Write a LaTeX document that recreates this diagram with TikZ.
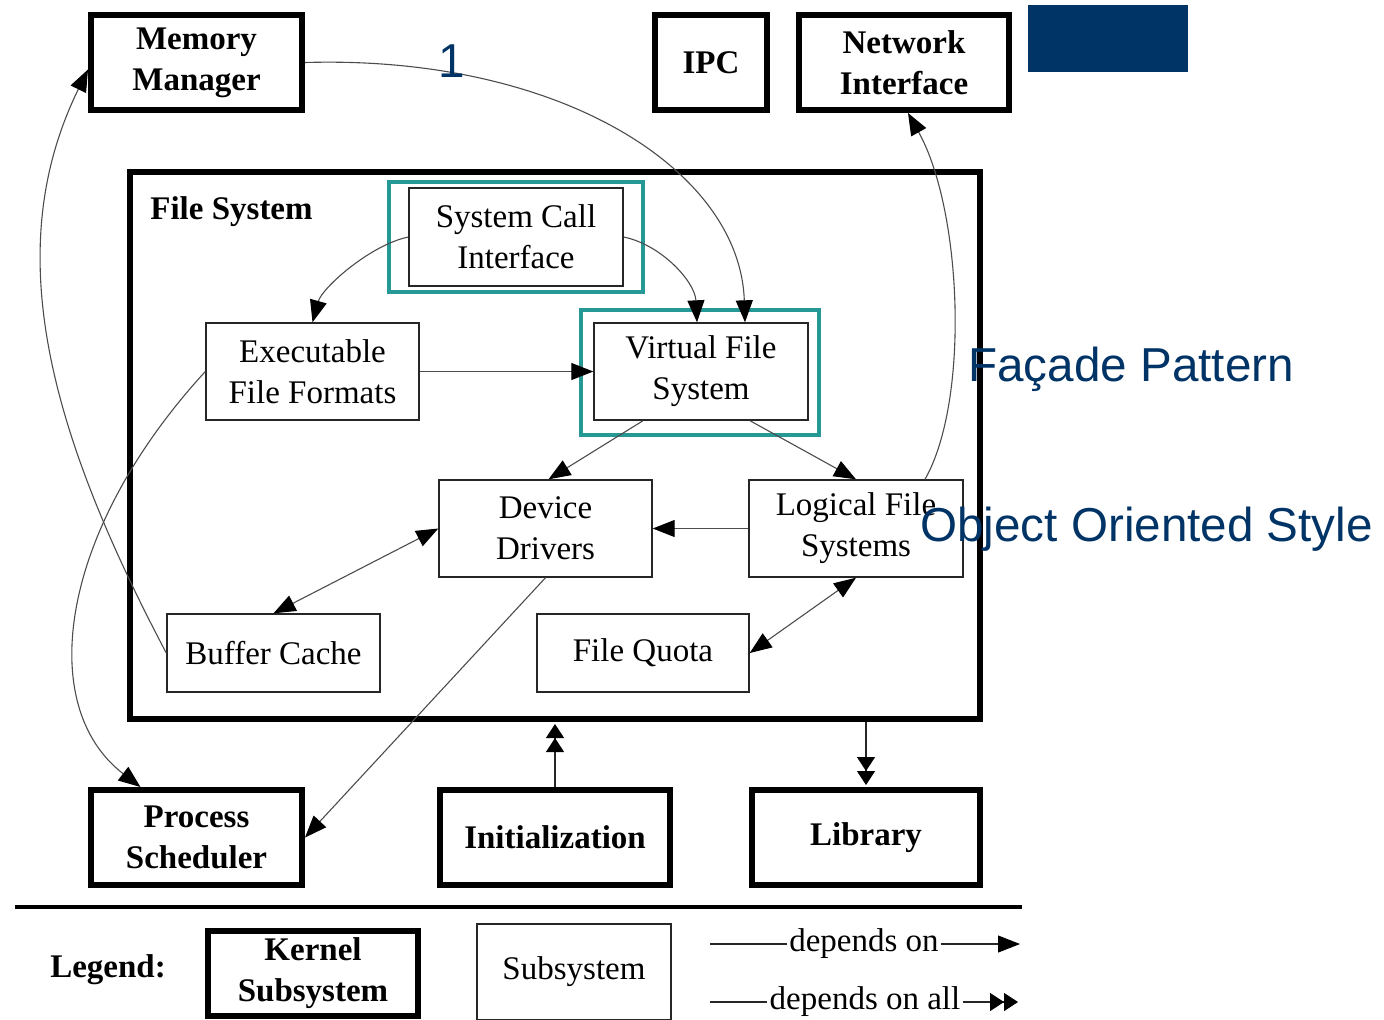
\documentclass[tikz,border=0pt]{standalone}
\usepackage{fontspec}
\setmainfont{Liberation Serif}
\newfontfamily\annfont{Liberation Sans}
\usetikzlibrary{arrows.meta,calc}
\definecolor{navy}{RGB}{0,51,102}
\definecolor{tealc}{RGB}{38,153,150}
\begin{document}
\begin{tikzpicture}[x=0.5pt,y=-0.5pt,
  kbox/.style={draw=black, line width=3pt, align=center, inner sep=0pt,
    font=\fontsize{16.5}{20.5}\selectfont\bfseries},
  sbox/.style={draw=black!85, line width=0.7pt, align=center, inner sep=0pt,
    font=\fontsize{16.5}{20.5}\selectfont},
  hl/.style={draw=tealc, line width=2pt, inner sep=0pt},
  conn/.style={draw=black!70, line width=0.55pt, -{Triangle[length=11pt,width=8.5pt,color=black]}},
  bconn/.style={draw=black!70, line width=0.55pt, {Triangle[length=11pt,width=8.5pt,color=black]}-{Triangle[length=11pt,width=8.5pt,color=black]}},
  allconn/.style={draw=black!85, line width=0.6pt, -{Triangle[length=7pt,width=9pt,color=black] Triangle[length=7pt,width=9pt,color=black,sep=1pt]}},
  ann/.style={text=navy, font=\annfont\fontsize{23.8}{28}\selectfont, inner sep=0pt},
  ltext/.style={inner sep=1pt, font=\fontsize{16.5}{20}\selectfont}
]
\useasboundingbox (0,0) rectangle (1384,1019);

% top row
\node[kbox, minimum width=105.5pt, minimum height=47.5pt] (mm) at (196.5,62.5) {Memory\\Manager};
\node[kbox, minimum width=56pt, minimum height=47.5pt] (ipc) at (711,62.5) {IPC};
\node[kbox, minimum width=105pt, minimum height=47.5pt] (net) at (904,62.5) {Network\\Interface};
\fill[navy] (1028,5) rectangle (1188,72);

% file system
\node[draw=black, line width=3pt, minimum width=425pt, minimum height=273.5pt, inner sep=0pt] (fs) at (555,445.5) {};
\node[anchor=base west, inner sep=0pt, font=\fontsize{16.5}{20}\selectfont\bfseries] (fsl) at (150,219) {File System};

\node[sbox, minimum width=107pt, minimum height=49pt] (sci) at (516,237) {System Call\\Interface};
\node[hl, minimum width=127pt, minimum height=55pt] (hl1) at (516,237) {};
\node[sbox, minimum width=106.5pt, minimum height=48.5pt] (eff) at (312.5,371.5) {Executable\\File Formats};
\node[sbox, minimum width=107pt, minimum height=48.5pt] (vfs) at (701,371.5) {Virtual File\\System};
\node[hl, minimum width=119pt, minimum height=62.5pt] (hl2) at (700,372.5) {};
\node[sbox, minimum width=106.5pt, minimum height=48.5pt] (dd) at (545.5,528.5) {Device\\Drivers};
\node[sbox, minimum width=107pt, minimum height=48.5pt] (lfs) at (856,528.5) {Logical File\\Systems};
\node[sbox, minimum width=106.5pt, minimum height=39pt] (bc) at (273.5,653) {Buffer Cache};
\node[sbox, minimum width=106pt, minimum height=39pt] (fq) at (643,653) {File Quota};

% bottom row
\node[kbox, minimum width=105.5pt, minimum height=47.5pt] (ps) at (196.5,837.5) {Process\\Scheduler};
\node[kbox, minimum width=115pt, minimum height=47.5pt] (init) at (555,837.5) {Initialization};
\node[kbox, minimum width=114pt, minimum height=47.5pt] (lib) at (866,837.5) {Library};

% connectors
\draw[conn] (mm.east) .. controls (560,55) and (740,170) .. ($(vfs.north)+(44,0)$);
\draw[conn] (sci.west) .. controls (370,245) and (322,288) .. (eff.north);
\draw[conn] (sci.east) .. controls (662,245) and (695,282) .. ($(vfs.north)+(-4,0)$);
\draw[conn] (eff.east) -- (vfs.west);
\draw[conn] ($(vfs.south)+(-58,0)$) -- ($(dd.north)+(3,0)$);
\draw[conn] ($(vfs.south)+(49,0)$) -- (lfs.north);
\draw[conn] (lfs.west) -- (dd.east);
\draw[bconn] (bc.north) -- (dd.west);
\draw[bconn] (fq.east) -- (lfs.south);
\draw[conn] (dd.south) -- (ps.east);
\draw[conn] (bc.west) .. controls (47,427) and (0.5,248) .. ($(mm.west)+(0,7)$);
\draw[conn] (eff.west) .. controls (59,531) and (35,706) .. ($(ps.north)+(-56,0)$);
\draw[conn] ($(lfs.north)+(69,0)$) .. controls (970,400) and (962,210) .. ($(net.south)+(4,0)$);
\draw[allconn] (init.north) -- (init.north |- fs.south);
\draw[allconn] (lib.north |- fs.south) -- (lib.north);

% annotations
\node[ann, anchor=base] (one) at (452,77) {1};
\node[ann, anchor=base west] (fac) at (968,381) {Façade Pattern};
\node[ann, anchor=base west] (oos) at (920,541) {Object Oriented Style};

% legend
\draw[line width=2pt] (15,907) -- (1022,907);
\node[inner sep=0pt, font=\fontsize{16.5}{20}\selectfont\bfseries] (leg) at (108,970) {Legend:};
\node[kbox, minimum width=105pt, minimum height=42.5pt] (kleg) at (313,973.5) {Kernel\\Subsystem};
\node[sbox, minimum width=97pt, minimum height=48pt] (sleg) at (574,972) {Subsystem};
\node[ltext] (dep1) at (864,944) {depends on};
\coordinate (d1a) at (710,944);
\coordinate (d1b) at (1020,944);
\draw[draw=black!85, line width=0.6pt] (d1a) -- (dep1.west);
\draw[conn, draw=black!85] (dep1.east) -- (d1b);
\node[ltext] (dep2) at (865,1002) {depends on all};
\coordinate (d2a) at (710,1002);
\coordinate (d2b) at (1020,1002);
\draw[draw=black!85, line width=0.6pt] (d2a) -- (dep2.west);
\draw[allconn] (dep2.east) -- (d2b);
\end{tikzpicture}
\end{document}
